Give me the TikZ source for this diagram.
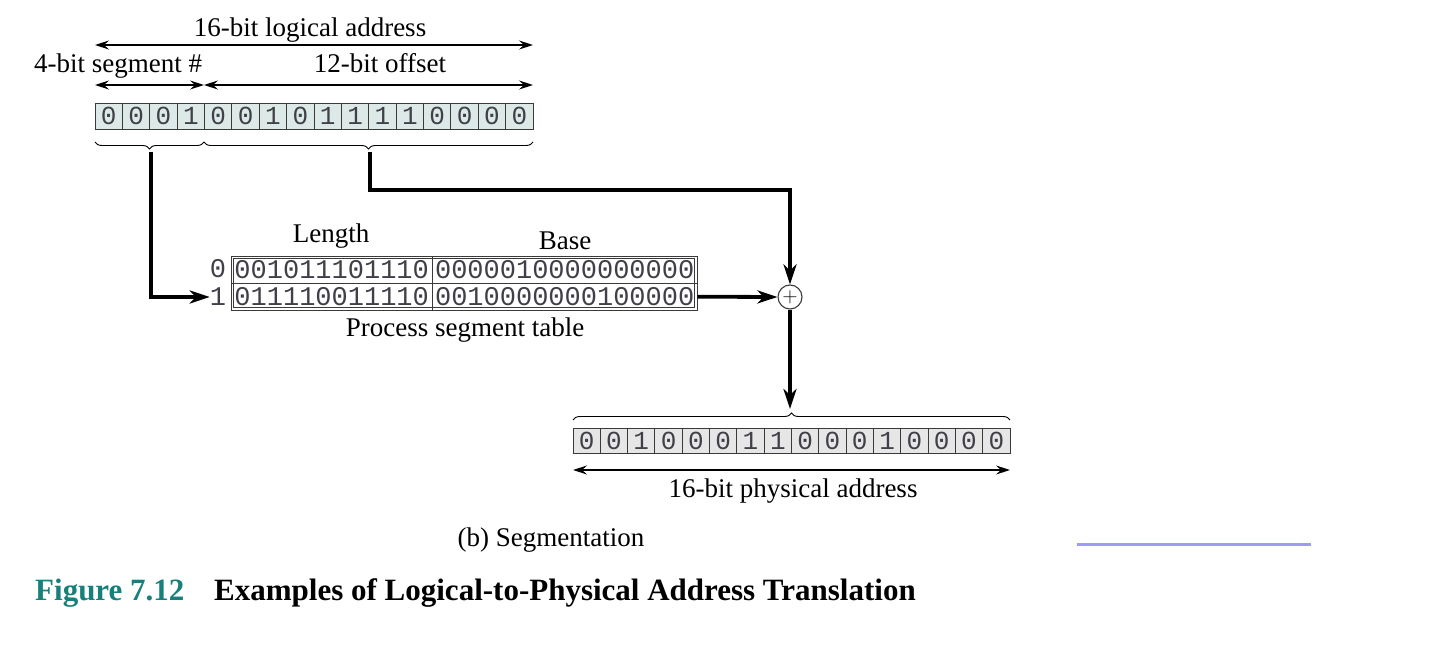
\documentclass[tikz,border=0pt]{standalone}
\usepackage{fontspec}
\setmainfont{Liberation Serif}
\setmonofont{Liberation Mono}
\usetikzlibrary{arrows.meta,decorations.pathreplacing,calc}
\definecolor{cellteal}{HTML}{DCE9E7}
\definecolor{cellgray}{HTML}{E6E6E6}
\definecolor{linegray}{HTML}{3A3A3A}
\definecolor{digitgray}{HTML}{404048}
\definecolor{titleteal}{HTML}{17807A}
\definecolor{linkblue}{HTML}{9C9CF8}
\tikzset{
  lbl/.style={font=\fontsize{27}{30}\selectfont, inner sep=0pt, anchor=base},
  bitcell/.style={draw=linegray, line width=0.9pt, inner sep=0pt, minimum height=26pt,
    text=digitgray, font=\ttfamily\fontsize{26}{26}\selectfont},
  dimarrow/.style={line width=1.1pt, {Stealth[length=14pt,width=9pt,inset=5pt]}-{Stealth[length=14pt,width=9pt,inset=5pt]}},
  bracestyle/.style={line width=0.9pt, decorate, decoration={brace, amplitude=7pt}},
  flow/.style={line width=3.8pt, -{Stealth[length=20pt,width=13pt,inset=6pt]}},
  tabtxt/.style={font=\ttfamily\fontsize{27}{27}\selectfont, text=digitgray, inner sep=0pt},
}
\begin{document}
\begin{tikzpicture}[x=1pt,y=-1pt]
\useasboundingbox (0,0) rectangle (1445,668);
% --- top labels
\node[lbl] (lla) at (310,37) {16-bit logical address};
\node[lbl] (sgl) at (118,73) {4-bit segment \#};
\node[lbl] (ofl) at (380,73) {12-bit offset};
\coordinate (aL) at (95,45);
\coordinate (aR) at (533,45);
\coordinate (bL) at (95,85);
\coordinate (bM) at (204,85);
\coordinate (bR) at (533,85);
\draw[dimarrow] (aL) -- (aR);
\draw[dimarrow] (bL) -- (bM);
\draw[dimarrow] (bM) -- (bR);
% --- logical address bits
\foreach \b [count=\i] in {0,0,0,1,0,0,1,0,1,1,1,1,0,0,0,0}{
  \node[bitcell, fill=cellteal, minimum width=27.375pt] (t\i) at ({95+27.375*(\i-0.5)},116) {\b};
}
% --- braces
\coordinate (sbL) at (95,142);
\coordinate (sbR) at (204,142);
\coordinate (obR) at (533,142);
\draw[bracestyle, decoration={mirror}] (sbL) -- (sbR);
\draw[bracestyle, decoration={mirror}] (sbR) -- (obR);
\coordinate (segTip) at (151,152);
\coordinate (offTip) at (370,152);
% --- table
\node[lbl] (lenL) at (331,243) {Length};
\node[lbl] (basL) at (565,250) {Base};
\node[tabtxt, anchor=center] (r0) at (218,269) {0};
\node[tabtxt, anchor=center] (r1) at (218,297) {1};
\node[tabtxt, minimum width=201pt, minimum height=27pt, anchor=north west] (l0) at (231,256) {001011101110};
\node[tabtxt, minimum width=265pt, minimum height=27pt, anchor=north west] (b0) at (432,256) {0000010000000000};
\node[tabtxt, minimum width=201pt, minimum height=27pt, anchor=north west] (l1) at (231,283) {011110011110};
\node[tabtxt, minimum width=265pt, minimum height=27pt, anchor=north west] (b1) at (432,283) {0010000000100000};
\draw[linegray, line width=0.9pt] (l0.north west) rectangle (b1.south east);
\draw[linegray, line width=0.9pt] ($(l0.north west)+(2.5,2.5)$) rectangle ($(b1.south east)+(-2.5,-2.5)$);
\draw[linegray, line width=0.9pt] (l0.south west) -- (b0.south east);
\draw[linegray, line width=0.9pt] (l0.north east) -- (l1.south east);
\node[lbl] (pst) at (465,336) {Process segment table};
% --- adder
\node[draw=linegray, line width=1.1pt, circle, minimum size=24pt, inner sep=0pt,
      font=\sffamily\fontsize{21}{21}\selectfont] (plus) at (790,297) {+};
% --- flows
\draw[flow] (segTip) |- (r1.west);
\draw[flow] (offTip) -- ++(0,38) -| (plus.north);
\draw[flow] (b1.east) -- (plus.west);
\coordinate (physTip) at (790,409);
\draw[flow] (plus.south) -- (physTip);
% --- physical address
\coordinate (pbL) at (573,420);
\coordinate (pbR) at (1010,420);
\draw[bracestyle] (pbL) -- (pbR);
\foreach \b [count=\i] in {0,0,1,0,0,0,1,1,0,0,0,1,0,0,0,0}{
  \node[bitcell, fill=cellgray, minimum width=27.3125pt, minimum height=25pt] (p\i) at ({573+27.3125*(\i-0.5)},440.5) {\b};
}
\coordinate (cL) at (573,470);
\coordinate (cR) at (1010,470);
\draw[dimarrow] (cL) -- (cR);
\node[lbl] (pal) at (793,497) {16-bit physical address};
% --- captions
\node[lbl] (cap) at (551,546) {(b) Segmentation};
\coordinate (u1) at (1077,544);
\coordinate (u2) at (1311,544);
\draw[linkblue, line width=3pt] (u1) -- (u2);
\node[lbl, anchor=base west, font=\bfseries\fontsize{31}{34}\selectfont, text=titleteal] (fig) at (35,600) {Figure 7.12};
\node[lbl, anchor=base west, font=\bfseries\fontsize{31}{34}\selectfont] (ttl) at (214,600) {Examples of Logical-to-Physical Address Translation};
\end{tikzpicture}
\end{document}
